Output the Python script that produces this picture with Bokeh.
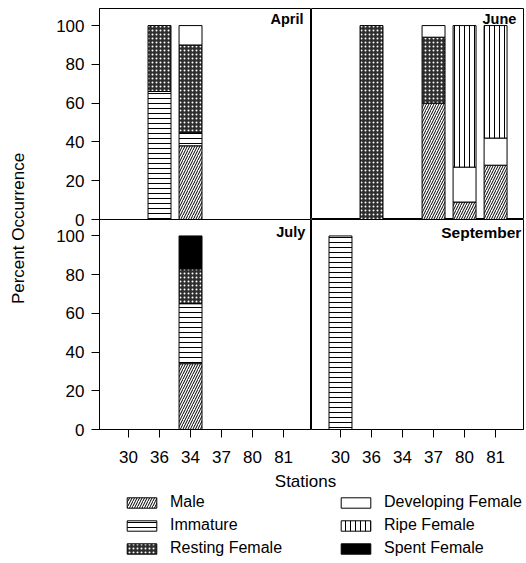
from math import pi
from bokeh.plotting import figure
from bokeh.layouts import row, column
from bokeh.models import ColumnDataSource, Range1d, FixedTicker, Label, Legend, LegendItem
from bokeh.embed import file_html
from bokeh.resources import INLINE

# ---------------- data ----------------
stations = ["30", "36", "34", "37", "80", "81"]
series_keys = ["male", "immature", "resting", "developing", "ripe", "spent"]
series_labels = ["Male", "Immature", "Resting Female", "Developing Female", "Ripe Female", "Spent Female"]
y_ticks = [0, 20, 40, 60, 80, 100]

april_male = [0, 0, 38, 0, 0, 0]
april_immature = [0, 66, 7, 0, 0, 0]
april_resting = [0, 34, 45, 0, 0, 0]
april_developing = [0, 0, 10, 0, 0, 0]
april_ripe = [0, 0, 0, 0, 0, 0]
april_spent = [0, 0, 0, 0, 0, 0]

june_male = [0, 0, 0, 60, 9, 28]
june_immature = [0, 0, 0, 0, 0, 0]
june_resting = [0, 100, 0, 34, 0, 0]
june_developing = [0, 0, 0, 6, 18, 14]
june_ripe = [0, 0, 0, 0, 73, 58]
june_spent = [0, 0, 0, 0, 0, 0]

july_male = [0, 0, 34, 0, 0, 0]
july_immature = [0, 0, 31, 0, 0, 0]
july_resting = [0, 0, 18, 0, 0, 0]
july_developing = [0, 0, 0, 0, 0, 0]
july_ripe = [0, 0, 0, 0, 0, 0]
july_spent = [0, 0, 17, 0, 0, 0]

september_male = [0, 0, 0, 0, 0, 0]
september_immature = [100, 0, 0, 0, 0, 0]
september_resting = [0, 0, 0, 0, 0, 0]
september_developing = [0, 0, 0, 0, 0, 0]
september_ripe = [0, 0, 0, 0, 0, 0]
september_spent = [0, 0, 0, 0, 0, 0]

months = ["April", "June", "July", "September"]

# ---------------- styling ----------------
FONT = "Liberation Sans"
X_START, X_END = -0.935, 5.9
BAR_W = 0.74
OVERLAP = 10

fill_colors = ["white", "white", "#2e2e2e", "white", "white", "black"]
hatch_patterns = ["/", "-", ".", " ", "|", " "]
hatch_colors = ["black", "black", "white", "black", "black", "black"]
hatch_scales = [5, 5, 4, 5, 5, 5]
hatch_weights = [1, 1, 1.4, 1, 1, 1]


def make_source(vals):
    d = {"x": list(range(len(stations))), "station": stations}
    for k, v in zip(series_keys, vals):
        d[k] = v
        # outline only the segments that are present
        d[k + "_la"] = [1.0 if val > 0 else 0.0 for val in v]
    return ColumnDataSource(d)


def make_panel(vals, title, left, bottom, y_end, title_x, title_y, title_size):
    frame_w, frame_h = 212, (211 if not bottom else 210)
    mb_left = 61 if left else 0
    mb_right = 0 if left else 2
    mb_bottom = 36 if bottom else (OVERLAP if left else 0)
    mb_top = 0 if bottom else 8
    kw = {}
    if left and bottom:
        kw = dict(margin=(-OVERLAP, 0, 0, 0), border_fill_alpha=0)
    p = figure(width=frame_w + mb_left + mb_right, height=frame_h + mb_bottom + mb_top,
               x_range=Range1d(X_START, X_END), y_range=Range1d(0, y_end),
               x_axis_location="below" if bottom else None,
               y_axis_location="left" if left else None,
               min_border=0, min_border_left=mb_left, min_border_right=mb_right,
               min_border_top=mb_top, min_border_bottom=mb_bottom,
               outline_line_color="black", outline_line_width=1,
               toolbar_location=None, output_backend="svg", **kw)
    p.grid.visible = False
    src = make_source(vals)
    p.vbar_stack(series_keys, x="x", width=BAR_W, source=src,
                 fill_color=fill_colors, hatch_pattern=hatch_patterns,
                 hatch_color=hatch_colors, hatch_scale=hatch_scales,
                 hatch_weight=hatch_weights, line_color="black", line_width=1,
                 line_alpha=[k + "_la" for k in series_keys])
    if left:
        ax = p.yaxis[0]
        ax.ticker = FixedTicker(ticks=y_ticks)
        ax.major_tick_out = 8
        ax.major_tick_in = 0
        ax.minor_tick_out = 0
        ax.minor_tick_in = 0
        ax.axis_line_color = "black"
        ax.major_tick_line_color = "black"
        ax.major_label_text_font = FONT
        ax.major_label_text_font_size = "17px"
        ax.major_label_text_color = "black"
        ax.major_label_standoff = 7
    if bottom:
        ax = p.xaxis[0]
        ax.ticker = FixedTicker(ticks=list(range(len(stations))))
        ax.major_label_overrides = {i: s for i, s in enumerate(stations)}
        ax.major_tick_out = 8
        ax.major_tick_in = 0
        ax.minor_tick_out = 0
        ax.minor_tick_in = 0
        ax.axis_line_color = "black"
        ax.major_tick_line_color = "black"
        ax.major_label_text_font = FONT
        ax.major_label_text_font_size = "17px"
        ax.major_label_text_color = "black"
        ax.major_label_standoff = 13
    p.add_layout(Label(x=title_x, y=title_y, text=title, text_align="right",
                       text_baseline="middle", text_font=FONT, text_font_style="bold",
                       text_font_size=title_size, text_color="black"))
    return p


p_april = make_panel([april_male, april_immature, april_resting, april_developing, april_ripe, april_spent],
                     months[0], True, False, 108.8, 5.64, 103.6, "14.5px")
p_june = make_panel([june_male, june_immature, june_resting, june_developing, june_ripe, june_spent],
                    months[1], False, False, 108.8, 5.67, 103.6, "14.5px")
p_july = make_panel([july_male, july_immature, july_resting, july_developing, july_ripe, july_spent],
                    months[2], True, True, 108.5, 5.70, 101.8, "14.5px")
p_sept = make_panel([september_male, september_immature, september_resting, september_developing,
                     september_ripe, september_spent],
                    months[3], False, True, 108.5, 5.83, 101.8, "15.5px")

grid_h = 219 + 246

# y-axis label strip
ylab = figure(width=38, height=grid_h, x_range=Range1d(0, 38), y_range=Range1d(0, grid_h),
              x_axis_location=None, y_axis_location=None, min_border=0,
              outline_line_color=None, toolbar_location=None, output_backend="svg")
ylab.grid.visible = False
ylab.add_layout(Label(x=18, y=237, text="Percent Occurrence", angle=pi / 2,
                      text_align="center", text_baseline="middle", text_font=FONT,
                      text_font_size="17px", text_color="black"))

# bottom strip: x-axis title and legend
leg_w, leg_h = 525, 96
leg = figure(width=leg_w, height=leg_h, x_range=Range1d(0, leg_w), y_range=Range1d(0, leg_h),
             x_axis_location=None, y_axis_location=None, min_border=0,
             outline_line_color=None, toolbar_location=None, output_backend="svg")
leg.grid.visible = False
leg.add_layout(Label(x=305, y=80, text="Stations", text_align="center", text_baseline="middle",
                     text_font=FONT, text_font_size="17px", text_color="black"))

nan = float("nan")
rends = {}
for i, k in enumerate(series_keys):
    rends[k] = leg.vbar(x=[nan], top=[nan], width=1, fill_color=fill_colors[i],
                        hatch_pattern=hatch_patterns[i], hatch_color=hatch_colors[i],
                        hatch_scale=hatch_scales[i], hatch_weight=hatch_weights[i],
                        line_color="black", line_width=1)


def make_legend(keys, loc):
    items = [LegendItem(label=series_labels[series_keys.index(k)], renderers=[rends[k]]) for k in keys]
    return Legend(items=items, location=loc, orientation="vertical",
                  glyph_width=37, glyph_height=13, label_height=13, spacing=5,
                  padding=0, margin=0, border_line_color=None, background_fill_alpha=0,
                  label_text_font=FONT, label_text_font_size="16px", label_standoff=10,
                  label_text_color="black")


leg.add_layout(make_legend(["male", "immature", "resting"], (123, 4)))
leg.add_layout(make_legend(["developing", "ripe", "spent"], (337, 4)))

left_col = column(p_april, p_july)
right_col = column(p_june, p_sept)
layout = column(row(ylab, left_col, right_col), leg)

open("out.html", "w").write(file_html(layout, INLINE))
